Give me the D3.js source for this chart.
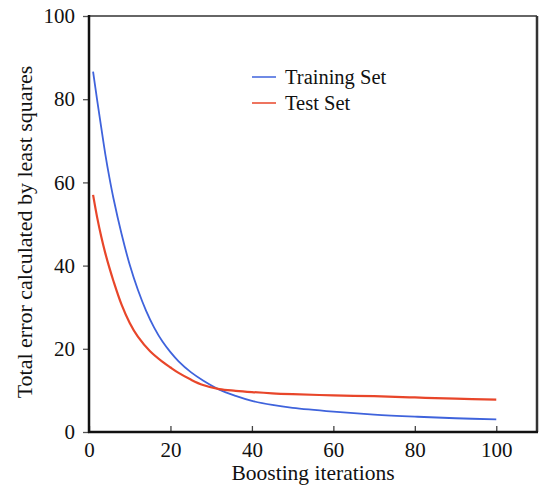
<!DOCTYPE html>
<html>
<head>
<meta charset="utf-8">
<script src="https://cdn.jsdelivr.net/npm/d3@7"></script>
<style>
body { margin: 0; background: #fff; }
text { font-family: "Liberation Serif", "Times New Roman", serif; fill: #111; }
</style>
</head>
<body>
<div id="vis_container"></div>
<script>
// values
var train_x = [1, 2, 3, 4, 5, 6, 8, 10, 12, 14, 16, 18, 20, 22, 25, 28, 32, 36, 40, 45, 50, 60, 70, 80, 90, 100];
var train_y = [86.6, 79.8, 73.2, 66.8, 61.2, 56.2, 47.6, 40.2, 34.2, 29.2, 25.1, 21.8, 19.2, 17, 14.4, 12.4, 10.2, 8.7, 7.5, 6.5, 5.8, 4.9, 4.2, 3.7, 3.3, 3.05];
var test_x = [1, 2, 3, 4, 5, 6, 8, 10, 12, 15, 18, 20, 22, 25, 28, 32, 36, 40, 45, 50, 60, 70, 80, 90, 100];
var test_y = [57, 51.6, 47, 43, 39.5, 36.3, 30.6, 26.2, 22.9, 19.4, 16.9, 15.5, 14.2, 12.6, 11.3, 10.3, 9.9, 9.6, 9.3, 9.1, 8.8, 8.6, 8.3, 8.0, 7.8];
var x_ticks = [0, 20, 40, 60, 80, 100];
var y_ticks = [0, 20, 40, 60, 80, 100];
var series_names = ["Training Set", "Test Set"];
var series_colors = ["#3f63dc", "#e8462a"];

var width = 546, height = 485;
// plot box edges (note: "top" is a reserved window global, so use prefixed names)
var plot_left = 89, plot_right = 537, plot_top = 16, plot_bottom = 432;

var x = d3.scaleLinear().domain([0, 110]).range([plot_left, plot_right]);
var y = d3.scaleLinear().domain([0, 100]).range([plot_bottom, plot_top]);

var svg = d3.select("#vis_container").append("svg")
	.attr("width", width)
	.attr("height", height);

// frame: top and right are lighter borders
svg.append("line")
	.attr("x1", plot_left).attr("x2", plot_right).attr("y1", plot_top).attr("y2", plot_top)
	.style("stroke", "#666").style("stroke-width", 2);
svg.append("line")
	.attr("x1", plot_right).attr("x2", plot_right).attr("y1", plot_top).attr("y2", plot_bottom)
	.style("stroke", "#333").style("stroke-width", 2.5);

// y axis, ticks outward
var yAxis = svg.append("g")
	.attr("transform", "translate(" + plot_left + ",0)")
	.call(d3.axisLeft(y).tickValues(y_ticks).tickSize(6).tickPadding(8));
yAxis.select(".domain").remove();
yAxis.selectAll(".tick line").style("stroke", "#555").style("stroke-width", 1.3);
yAxis.selectAll(".tick text").style("font-size", "21px").style("font-family", "Liberation Serif").attr("fill", "#111");

// x axis, ticks inward
var xAxis = svg.append("g")
	.attr("transform", "translate(0," + plot_bottom + ")")
	.call(d3.axisBottom(x).tickValues(x_ticks).tickSize(-6).tickPadding(10));
xAxis.select(".domain").remove();
xAxis.selectAll(".tick line").style("stroke", "#444").style("stroke-width", 1.3);
xAxis.selectAll(".tick text").style("font-size", "21px").style("font-family", "Liberation Serif").attr("fill", "#111");

// thick black left and bottom axis lines
svg.append("line")
	.attr("x1", plot_left).attr("x2", plot_left).attr("y1", plot_top - 1).attr("y2", plot_bottom + 1)
	.style("stroke", "#111").style("stroke-width", 2.5);
svg.append("line")
	.attr("x1", plot_left - 1).attr("x2", plot_right + 1).attr("y1", plot_bottom).attr("y2", plot_bottom)
	.style("stroke", "#111").style("stroke-width", 2.5);

// curves
var line = d3.line()
	.x(function(d) { return x(d[0]); })
	.y(function(d) { return y(d[1]); })
	.curve(d3.curveCatmullRom.alpha(0.5));

var train = d3.zip(train_x, train_y);
var test = d3.zip(test_x, test_y);

svg.append("path").datum(train)
	.attr("d", line)
	.style("fill", "none").style("stroke", series_colors[0]).style("stroke-width", 1.8);
svg.append("path").datum(test)
	.attr("d", line)
	.style("fill", "none").style("stroke", series_colors[1]).style("stroke-width", 2.2);

// legend
series_names.forEach(function(name, i) {
	var ly = 77 + i * 26;
	svg.append("line")
		.attr("x1", 252).attr("x2", 276).attr("y1", ly).attr("y2", ly)
		.style("stroke", series_colors[i]).style("stroke-width", 1.5);
	svg.append("text")
		.attr("x", 285).attr("y", ly + 7)
		.style("font-size", "20.5px")
		.text(name);
});

// axis labels
svg.append("text")
	.attr("x", (plot_left + plot_right) / 2).attr("y", 480)
	.style("text-anchor", "middle")
	.style("font-size", "21.5px")
	.text("Boosting iterations");

svg.append("text")
	.attr("transform", "translate(32,232) rotate(-90)")
	.style("text-anchor", "middle")
	.style("font-size", "22px")
	.text("Total error calculated by least squares");
</script>
</body>
</html>
